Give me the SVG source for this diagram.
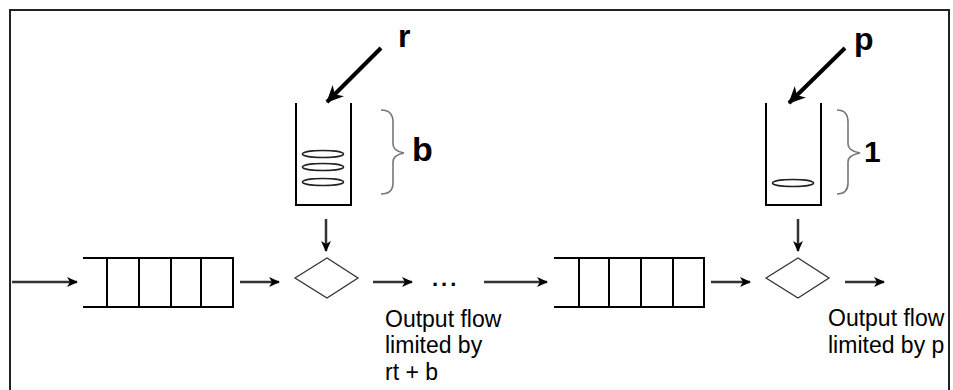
<svg xmlns="http://www.w3.org/2000/svg" width="953" height="390" viewBox="0 0 953 390">
<defs>
<marker id="ah" markerWidth="12" markerHeight="10" refX="10" refY="5" orient="auto" markerUnits="userSpaceOnUse">
<path d="M0,0 L11,5 L0,10 L3,5 Z" fill="#000"/>
</marker>
<marker id="ahb" markerWidth="18" markerHeight="16" refX="16" refY="8" orient="auto" markerUnits="userSpaceOnUse">
<path d="M0,0 L17,8 L0,16 L5,8 Z" fill="#000"/>
</marker>
</defs>
<style>
.frame{fill:none;stroke:#222;stroke-width:2}
.flow{fill:none;stroke:#333;stroke-width:2.5}
.thick{fill:none;stroke:#000;stroke-width:4}
.q{fill:none;stroke:#000;stroke-width:2}
.wall{fill:none;stroke:#000;stroke-width:2}
.tok{fill:none;stroke:#222;stroke-width:1.6}
.brace{fill:none;stroke:#777;stroke-width:1.6}
.dia{fill:#fff;stroke:#333;stroke-width:1.3}
.lbl{font-family:"Liberation Sans",Arial,sans-serif;font-weight:bold;fill:#000}
.txt{font-family:"Liberation Sans",Arial,sans-serif;font-size:23px;fill:#000}
</style>
<rect x="0" y="0" width="953" height="390" fill="#fff"/>
<path class="frame" d="M10,390 V10 H949 V390"/>

<g id="queue1">
<path class="q" d="M83,258 H233 V307 H83 M107,258 V307 M139,258 V307 M171,258 V307 M201,258 V307"/>
</g>
<g id="bucket1">
<path class="wall" d="M296,103 V205 H351 V103"/>
<ellipse class="tok" cx="323" cy="154" rx="20.5" ry="3.5"/>
<ellipse class="tok" cx="323" cy="167" rx="20.5" ry="3.5"/>
<ellipse class="tok" cx="323" cy="182" rx="20.5" ry="3.5"/>
<path class="brace" d="M381,110 Q393,110 393,122 V144 Q393,151 404,153 Q393,155 393,162 V183 Q393,194 381,194"/>
<text class="lbl" x="412" y="161" font-size="34">b</text>
<text class="lbl" x="398" y="47" font-size="32">r</text>
</g>
<g id="gate1">
<polygon class="dia" points="295,278 327,258 358,278 327,298"/>
</g>
<g id="out1">
<text class="lbl" x="432" y="286" font-size="22" letter-spacing="3">...</text>
<text class="txt" x="385" y="327">Output flow</text>
<text class="txt" x="385" y="353">limited by</text>
<text class="txt" x="385" y="380">rt + b</text>
</g>

<g id="queue2">
<path class="q" d="M554,258 H704 V307 H554 M579,258 V307 M609,258 V307 M641,258 V307 M673,258 V307"/>
</g>
<g id="bucket2">
<path class="wall" d="M766,103 V205 H821 V103"/>
<ellipse class="tok" cx="793" cy="183" rx="20.5" ry="3.5"/>
<path class="brace" d="M837,110 Q848,110 848,122 V144 Q848,151 860,153 Q848,155 848,162 V183 Q848,194 837,194"/>
<text class="lbl" x="864" y="162" font-size="30">1</text>
<text class="lbl" x="854" y="50" font-size="32">p</text>
</g>
<g id="gate2">
<polygon class="dia" points="766,278 798,258 829,278 798,298"/>
</g>
<g id="out2">
<text class="txt" x="828" y="326">Output flow</text>
<text class="txt" x="828" y="353">limited by p</text>
</g>

<g id="connectors">
<line class="flow" x1="12" y1="282" x2="77" y2="282" marker-end="url(#ah)"/>
<line class="flow" x1="240" y1="282" x2="279" y2="282" marker-end="url(#ah)"/>
<line class="flow" x1="373" y1="282" x2="412" y2="282" marker-end="url(#ah)"/>
<line class="flow" x1="484" y1="282" x2="547" y2="282" marker-end="url(#ah)"/>
<line class="flow" x1="711" y1="282" x2="750" y2="282" marker-end="url(#ah)"/>
<line class="flow" x1="845" y1="282" x2="884" y2="282" marker-end="url(#ah)"/>
<line class="flow" x1="326" y1="219" x2="326" y2="251" marker-end="url(#ah)"/>
<line class="flow" x1="798" y1="219" x2="798" y2="251" marker-end="url(#ah)"/>
<line class="thick" x1="381" y1="48" x2="327" y2="102" marker-end="url(#ahb)"/>
<line class="thick" x1="845" y1="48" x2="789" y2="103" marker-end="url(#ahb)"/>
</g>
</svg>
